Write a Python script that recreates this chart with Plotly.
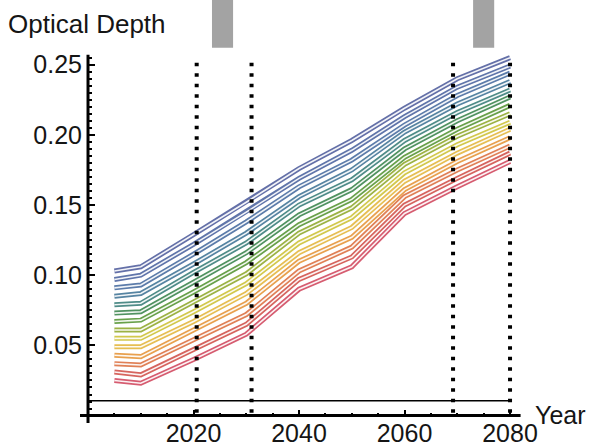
import plotly.graph_objects as go

# ---------------- data ----------------
years = [2005, 2010, 2020, 2030, 2040, 2050, 2060, 2070, 2080]

od_01 = [0.103, 0.106, 0.129, 0.152, 0.176, 0.196, 0.219, 0.240, 0.255]
od_02 = [0.097, 0.100, 0.122, 0.145, 0.169, 0.189, 0.213, 0.234, 0.249]
od_03 = [0.091, 0.093, 0.115, 0.138, 0.163, 0.182, 0.207, 0.228, 0.244]
od_04 = [0.085, 0.087, 0.108, 0.130, 0.156, 0.175, 0.202, 0.222, 0.238]
od_05 = [0.079, 0.080, 0.102, 0.123, 0.150, 0.168, 0.196, 0.216, 0.232]
od_06 = [0.073, 0.074, 0.095, 0.116, 0.143, 0.161, 0.190, 0.210, 0.227]
od_07 = [0.067, 0.068, 0.088, 0.109, 0.136, 0.154, 0.184, 0.204, 0.221]
od_08 = [0.061, 0.061, 0.081, 0.101, 0.130, 0.148, 0.179, 0.199, 0.215]
od_09 = [0.055, 0.055, 0.074, 0.094, 0.123, 0.141, 0.173, 0.193, 0.209]
od_10 = [0.049, 0.049, 0.067, 0.087, 0.116, 0.134, 0.167, 0.187, 0.204]
od_11 = [0.043, 0.042, 0.061, 0.080, 0.110, 0.127, 0.161, 0.181, 0.198]
od_12 = [0.037, 0.036, 0.054, 0.072, 0.103, 0.120, 0.156, 0.175, 0.192]
od_13 = [0.031, 0.029, 0.047, 0.065, 0.097, 0.113, 0.150, 0.169, 0.187]
od_14 = [0.025, 0.023, 0.040, 0.058, 0.090, 0.106, 0.144, 0.163, 0.181]

series = [od_01, od_02, od_03, od_04, od_05, od_06, od_07,
          od_08, od_09, od_10, od_11, od_12, od_13, od_14]

line_colors = ["#6470a8", "#6075aa", "#5c7caa", "#5684a2", "#4f8c88", "#509260",
               "#68a04a", "#9cb244", "#d2c84c", "#e6be52", "#e8a04e", "#e08056",
               "#d6645e", "#d65c70"]

event_years = [2020.6, 2031.0, 2069.2, 2080.0]
event_top = 0.254
window_periods = [(2023.5, 2027.5), (2073.0, 2077.0)]
window_bottom = 0.262
window_top = 0.30
baseline_level = 0.0105

y_tick_vals = [0.05, 0.10, 0.15, 0.20, 0.25]
y_tick_text = ["0.05", "0.10", "0.15", "0.20", "0.25"]
x_tick_vals = [2020, 2040, 2060, 2080]
x_tick_text = ["2020", "2040", "2060", "2080"]
x_minor_vals = [2000, 2005, 2010, 2015, 2025, 2030, 2035, 2045, 2050, 2055,
                2065, 2070, 2075]
y_minor_vals = [round(0.005 * i, 3) for i in range(1, 52)]

x_range = [1998.48, 2082.27]
y_range = [-0.0053, 0.2961]

FONT = "Liberation Sans, Arial, Helvetica, sans-serif"
TXT = "#151515"

# ---------------- figure ----------------
fig = go.Figure()

for vals, col in zip(series, line_colors):
    fig.add_trace(go.Scatter(x=years, y=vals, mode="lines",
                             line=dict(color=col, width=5),
                             hoverinfo="skip", showlegend=False))
    fig.add_trace(go.Scatter(x=years, y=vals, mode="lines",
                             line=dict(color="rgba(255,255,255,0.92)", width=1.6),
                             hoverinfo="skip", showlegend=False))

shapes = []
# axes lines
shapes.append(dict(type="line", xref="x", yref="y", x0=x_range[0], x1=2082.0,
                   y0=0, y1=0, line=dict(color="black", width=3)))
shapes.append(dict(type="line", xref="x", yref="y", x0=2000, x1=2000,
                   y0=y_range[0], y1=0.257, line=dict(color="black", width=3)))
# thin baseline
shapes.append(dict(type="line", xref="x", yref="y", x0=2000, x1=2080,
                   y0=baseline_level, y1=baseline_level,
                   line=dict(color="black", width=1.5)))
# dotted event lines
for ev in event_years:
    shapes.append(dict(type="line", xref="x", yref="y", x0=ev, x1=ev,
                       y0=0.002, y1=event_top,
                       line=dict(color="black", width=4, dash="3.5px,7px")))
# gray windows
for a, b in window_periods:
    shapes.append(dict(type="rect", xref="x", yref="y", x0=a, x1=b,
                       y0=window_bottom, y1=window_top,
                       fillcolor="#a3a3a3", line=dict(width=0)))

fig.update_layout(
    width=591, height=447,
    margin=dict(l=80, r=69, t=0, b=22),
    paper_bgcolor="white", plot_bgcolor="white",
    shapes=shapes,
    xaxis=dict(range=x_range, showgrid=False, zeroline=False, showline=False,
               anchor="free", position=0.01765,
               tickmode="array", tickvals=x_tick_vals, ticktext=x_tick_text,
               ticks="inside", ticklen=6, tickwidth=2, tickcolor="black",
               ticklabelstandoff=0,
               tickfont=dict(family=FONT, size=25, color=TXT),
               minor=dict(tickmode="array", tickvals=x_minor_vals, ticks="inside",
                          ticklen=3, tickwidth=1.5, tickcolor="black")),
    yaxis=dict(range=y_range, showgrid=False, zeroline=False, showline=False,
               anchor="free", position=0.0181,
               tickmode="array", tickvals=y_tick_vals, ticktext=y_tick_text,
               ticks="inside", ticklen=6, tickwidth=2, tickcolor="black",
               ticklabelstandoff=6,
               tickfont=dict(family=FONT, size=25, color=TXT),
               minor=dict(tickmode="array", tickvals=y_minor_vals, ticks="inside",
                          ticklen=3, tickwidth=1.5, tickcolor="black")),
    annotations=[
        dict(text="Optical Depth", xref="paper", yref="paper",
             x=-0.168, y=0.984, xanchor="left", yanchor="top", showarrow=False,
             font=dict(family=FONT, size=26, color=TXT)),
        dict(text="Year", xref="paper", yref="paper",
             x=1.026, y=0.018, xanchor="left", yanchor="middle", showarrow=False,
             font=dict(family=FONT, size=25, color=TXT)),
    ],
)

fig.write_html("out.html", config={"displayModeBar": False},
               post_script="document.body.style.margin='0px';")
